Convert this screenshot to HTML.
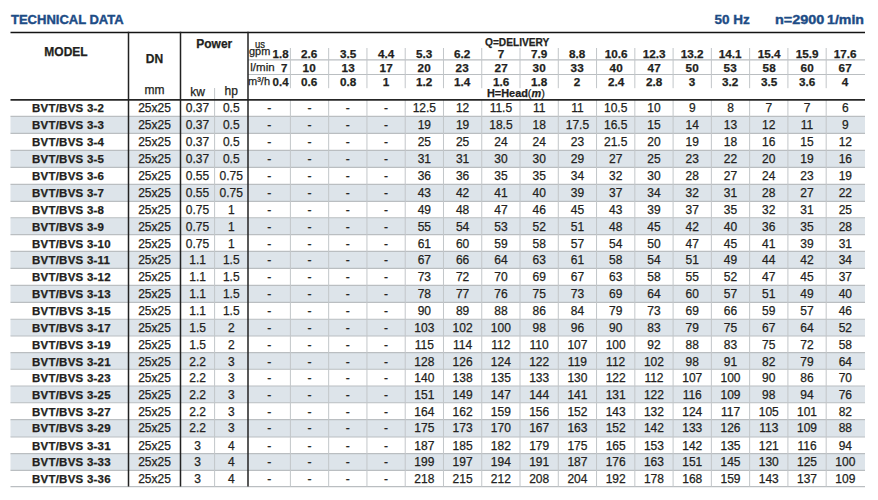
<!DOCTYPE html>
<html><head><meta charset="utf-8"><style>
html,body{margin:0;padding:0;background:#fff;}
body{width:878px;height:500px;position:relative;overflow:hidden;font-family:"Liberation Sans", sans-serif;}
body>div{position:absolute;white-space:nowrap;-webkit-text-stroke:0.25px currentColor;}
svg{position:absolute;left:0;top:0;}
</style></head><body>
<svg width="878" height="500" viewBox="0 0 878 500">
<rect x="10.5" y="116.4" width="854.5" height="17.0" fill="#dde4ea"/>
<rect x="10.5" y="150.4" width="854.5" height="17.0" fill="#dde4ea"/>
<rect x="10.5" y="184.4" width="854.5" height="17.0" fill="#dde4ea"/>
<rect x="10.5" y="217.8" width="854.5" height="16.8" fill="#dde4ea"/>
<rect x="10.5" y="251.4" width="854.5" height="17.0" fill="#dde4ea"/>
<rect x="10.5" y="285.4" width="854.5" height="17.0" fill="#dde4ea"/>
<rect x="10.5" y="319.2" width="854.5" height="16.8" fill="#dde4ea"/>
<rect x="10.5" y="352.6" width="854.5" height="16.6" fill="#dde4ea"/>
<rect x="10.5" y="386.0" width="854.5" height="16.8" fill="#dde4ea"/>
<rect x="10.5" y="419.6" width="854.5" height="17.4" fill="#dde4ea"/>
<rect x="10.5" y="453.6" width="854.5" height="16.8" fill="#dde4ea"/>
<line x1="10.5" y1="116.4" x2="865.0" y2="116.4" stroke="#babec1" stroke-width="1.1"/>
<line x1="10.5" y1="133.4" x2="865.0" y2="133.4" stroke="#babec1" stroke-width="1.1"/>
<line x1="10.5" y1="150.4" x2="865.0" y2="150.4" stroke="#babec1" stroke-width="1.1"/>
<line x1="10.5" y1="167.4" x2="865.0" y2="167.4" stroke="#babec1" stroke-width="1.1"/>
<line x1="10.5" y1="184.4" x2="865.0" y2="184.4" stroke="#babec1" stroke-width="1.1"/>
<line x1="10.5" y1="201.4" x2="865.0" y2="201.4" stroke="#babec1" stroke-width="1.1"/>
<line x1="10.5" y1="217.8" x2="865.0" y2="217.8" stroke="#babec1" stroke-width="1.1"/>
<line x1="10.5" y1="234.6" x2="865.0" y2="234.6" stroke="#babec1" stroke-width="1.1"/>
<line x1="10.5" y1="251.4" x2="865.0" y2="251.4" stroke="#babec1" stroke-width="1.1"/>
<line x1="10.5" y1="268.4" x2="865.0" y2="268.4" stroke="#babec1" stroke-width="1.1"/>
<line x1="10.5" y1="285.4" x2="865.0" y2="285.4" stroke="#babec1" stroke-width="1.1"/>
<line x1="10.5" y1="302.4" x2="865.0" y2="302.4" stroke="#babec1" stroke-width="1.1"/>
<line x1="10.5" y1="319.2" x2="865.0" y2="319.2" stroke="#babec1" stroke-width="1.1"/>
<line x1="10.5" y1="336.0" x2="865.0" y2="336.0" stroke="#babec1" stroke-width="1.1"/>
<line x1="10.5" y1="352.6" x2="865.0" y2="352.6" stroke="#babec1" stroke-width="1.1"/>
<line x1="10.5" y1="369.2" x2="865.0" y2="369.2" stroke="#babec1" stroke-width="1.1"/>
<line x1="10.5" y1="386.0" x2="865.0" y2="386.0" stroke="#babec1" stroke-width="1.1"/>
<line x1="10.5" y1="402.8" x2="865.0" y2="402.8" stroke="#babec1" stroke-width="1.1"/>
<line x1="10.5" y1="419.6" x2="865.0" y2="419.6" stroke="#babec1" stroke-width="1.1"/>
<line x1="10.5" y1="437.0" x2="865.0" y2="437.0" stroke="#babec1" stroke-width="1.1"/>
<line x1="10.5" y1="453.6" x2="865.0" y2="453.6" stroke="#babec1" stroke-width="1.1"/>
<line x1="10.5" y1="470.4" x2="865.0" y2="470.4" stroke="#babec1" stroke-width="1.1"/>
<line x1="10.5" y1="486.6" x2="865.0" y2="486.6" stroke="#babec1" stroke-width="1.1"/>
<line x1="248" y1="59.9" x2="865.0" y2="59.9" stroke="#babec1" stroke-width="1.1"/>
<line x1="248" y1="74.5" x2="865.0" y2="74.5" stroke="#babec1" stroke-width="1.1"/>
<line x1="290.4" y1="48.0" x2="290.4" y2="88.2" stroke="#c2c6c9" stroke-width="1.0"/>
<line x1="328.67" y1="48.0" x2="328.67" y2="88.2" stroke="#c2c6c9" stroke-width="1.0"/>
<line x1="366.94" y1="48.0" x2="366.94" y2="88.2" stroke="#c2c6c9" stroke-width="1.0"/>
<line x1="405.21" y1="48.0" x2="405.21" y2="88.2" stroke="#c2c6c9" stroke-width="1.0"/>
<line x1="443.48" y1="48.0" x2="443.48" y2="88.2" stroke="#c2c6c9" stroke-width="1.0"/>
<line x1="481.75" y1="48.0" x2="481.75" y2="88.2" stroke="#c2c6c9" stroke-width="1.0"/>
<line x1="520.02" y1="48.0" x2="520.02" y2="88.2" stroke="#c2c6c9" stroke-width="1.0"/>
<line x1="558.29" y1="48.0" x2="558.29" y2="88.2" stroke="#c2c6c9" stroke-width="1.0"/>
<line x1="596.56" y1="48.0" x2="596.56" y2="88.2" stroke="#c2c6c9" stroke-width="1.0"/>
<line x1="634.83" y1="48.0" x2="634.83" y2="88.2" stroke="#c2c6c9" stroke-width="1.0"/>
<line x1="673.1" y1="48.0" x2="673.1" y2="88.2" stroke="#c2c6c9" stroke-width="1.0"/>
<line x1="711.37" y1="48.0" x2="711.37" y2="88.2" stroke="#c2c6c9" stroke-width="1.0"/>
<line x1="749.64" y1="48.0" x2="749.64" y2="88.2" stroke="#c2c6c9" stroke-width="1.0"/>
<line x1="787.91" y1="48.0" x2="787.91" y2="88.2" stroke="#c2c6c9" stroke-width="1.0"/>
<line x1="826.18" y1="48.0" x2="826.18" y2="88.2" stroke="#c2c6c9" stroke-width="1.0"/>
<line x1="290.4" y1="99.9" x2="290.4" y2="486.6" stroke="#c2c6c9" stroke-width="1.0"/>
<line x1="328.67" y1="99.9" x2="328.67" y2="486.6" stroke="#c2c6c9" stroke-width="1.0"/>
<line x1="366.94" y1="99.9" x2="366.94" y2="486.6" stroke="#c2c6c9" stroke-width="1.0"/>
<line x1="405.21" y1="99.9" x2="405.21" y2="486.6" stroke="#c2c6c9" stroke-width="1.0"/>
<line x1="443.48" y1="99.9" x2="443.48" y2="486.6" stroke="#c2c6c9" stroke-width="1.0"/>
<line x1="481.75" y1="99.9" x2="481.75" y2="486.6" stroke="#c2c6c9" stroke-width="1.0"/>
<line x1="520.02" y1="99.9" x2="520.02" y2="486.6" stroke="#c2c6c9" stroke-width="1.0"/>
<line x1="558.29" y1="99.9" x2="558.29" y2="486.6" stroke="#c2c6c9" stroke-width="1.0"/>
<line x1="596.56" y1="99.9" x2="596.56" y2="486.6" stroke="#c2c6c9" stroke-width="1.0"/>
<line x1="634.83" y1="99.9" x2="634.83" y2="486.6" stroke="#c2c6c9" stroke-width="1.0"/>
<line x1="673.1" y1="99.9" x2="673.1" y2="486.6" stroke="#c2c6c9" stroke-width="1.0"/>
<line x1="711.37" y1="99.9" x2="711.37" y2="486.6" stroke="#c2c6c9" stroke-width="1.0"/>
<line x1="749.64" y1="99.9" x2="749.64" y2="486.6" stroke="#c2c6c9" stroke-width="1.0"/>
<line x1="787.91" y1="99.9" x2="787.91" y2="486.6" stroke="#c2c6c9" stroke-width="1.0"/>
<line x1="826.18" y1="99.9" x2="826.18" y2="486.6" stroke="#c2c6c9" stroke-width="1.0"/>
<line x1="214.6" y1="88.0" x2="214.6" y2="486.6" stroke="#c2c6c9" stroke-width="1.0"/>
<line x1="10.5" y1="32.45" x2="865.0" y2="32.45" stroke="#141414" stroke-width="1.5"/>
<line x1="10.5" y1="99.9" x2="865.0" y2="99.9" stroke="#262626" stroke-width="1.9"/>
<line x1="128.5" y1="31.700000000000003" x2="128.5" y2="486.6" stroke="#222" stroke-width="1.5"/>
<line x1="180.5" y1="31.700000000000003" x2="180.5" y2="486.6" stroke="#222" stroke-width="1.5"/>
<line x1="248.0" y1="31.700000000000003" x2="248.0" y2="486.6" stroke="#222" stroke-width="1.5"/>
</svg>
<div style="left:11.00px;top:12px;font-size:13px;line-height:16px;text-align:left;font-weight:bold;color:#1d4c86;-webkit-text-stroke:0.4px currentColor;">TECHNICAL DATA</div>
<div style="left:714.50px;top:12px;font-size:13.5px;line-height:16px;text-align:left;font-weight:bold;color:#1d4c86;-webkit-text-stroke:0.4px currentColor;">50 Hz</div>
<div style="left:774.90px;top:12px;font-size:13px;line-height:16px;text-align:left;font-weight:bold;color:#1d4c86;transform:scaleX(1.11);transform-origin:left 0;-webkit-text-stroke:0.4px currentColor;">n=2900</div>
<div style="left:827.40px;top:12px;font-size:13px;line-height:16px;text-align:left;font-weight:bold;color:#1d4c86;transform:scaleX(1.09);transform-origin:left 0;-webkit-text-stroke:0.4px currentColor;">1/min</div>
<div style="left:44.30px;top:45px;font-size:12px;line-height:14px;text-align:left;font-weight:bold;color:#231f20;">MODEL</div>
<div style="left:128.50px;top:52px;width:52.00px;font-size:12px;line-height:14px;text-align:center;font-weight:bold;color:#231f20;">DN</div>
<div style="left:180.50px;top:37px;width:67.50px;font-size:12px;line-height:14px;text-align:center;font-weight:bold;color:#231f20;">Power</div>
<div style="left:128.50px;top:83px;width:52.00px;font-size:12px;line-height:14px;text-align:center;font-weight:normal;color:#231f20;">mm</div>
<div style="left:180.50px;top:85px;width:34.10px;font-size:12px;line-height:14px;text-align:center;font-weight:normal;color:#231f20;">kw</div>
<div style="left:214.60px;top:84px;width:33.40px;font-size:12px;line-height:14px;text-align:center;font-weight:normal;color:#231f20;">hp</div>
<div style="left:254.80px;top:39px;font-size:10px;line-height:12px;text-align:left;font-weight:normal;color:#231f20;transform:scaleX(0.95);transform-origin:left 0;">us</div>
<div style="left:248.60px;top:45px;font-size:10.5px;line-height:13px;text-align:left;font-weight:normal;color:#231f20;transform:scaleX(1.04);transform-origin:left 0;">gpm</div>
<div style="left:250.30px;top:60px;font-size:11.5px;line-height:14px;text-align:left;font-weight:normal;color:#231f20;">l/min</div>
<div style="left:248.00px;top:75px;font-size:11px;line-height:13px;text-align:left;font-weight:normal;color:#231f20;">m&sup3;/h</div>
<div style="left:484.60px;top:36px;font-size:11px;line-height:13px;text-align:left;font-weight:bold;color:#231f20;transform:scaleX(0.925);transform-origin:left 0;">Q=DELIVERY</div>
<div style="left:487.00px;top:87px;font-size:11px;line-height:13px;text-align:left;font-weight:bold;color:#231f20;transform:scaleX(0.99);transform-origin:left 0;">H=Head<span style="font-weight:normal">(</span><i>m</i><span style="font-weight:normal">)</span></div>
<div style="left:248.00px;top:47px;width:40.60px;font-size:11.5px;line-height:14px;text-align:right;font-weight:bold;color:#231f20;">1.8</div>
<div style="left:248.00px;top:61px;width:39.30px;font-size:11.5px;line-height:14px;text-align:right;font-weight:bold;color:#231f20;">7</div>
<div style="left:248.00px;top:75px;width:40.60px;font-size:11.5px;line-height:14px;text-align:right;font-weight:bold;color:#231f20;">0.4</div>
<div style="left:290.40px;top:47px;width:38.27px;font-size:11.5px;line-height:14px;text-align:center;font-weight:bold;color:#231f20;transform:scaleX(1.02);transform-origin:center 0;">2.6</div>
<div style="left:290.40px;top:61px;width:38.27px;font-size:11.5px;line-height:14px;text-align:center;font-weight:bold;color:#231f20;transform:scaleX(1.02);transform-origin:center 0;">10</div>
<div style="left:290.40px;top:75px;width:38.27px;font-size:11.5px;line-height:14px;text-align:center;font-weight:bold;color:#231f20;transform:scaleX(1.02);transform-origin:center 0;">0.6</div>
<div style="left:328.67px;top:47px;width:38.27px;font-size:11.5px;line-height:14px;text-align:center;font-weight:bold;color:#231f20;transform:scaleX(1.02);transform-origin:center 0;">3.5</div>
<div style="left:328.67px;top:61px;width:38.27px;font-size:11.5px;line-height:14px;text-align:center;font-weight:bold;color:#231f20;transform:scaleX(1.02);transform-origin:center 0;">13</div>
<div style="left:328.67px;top:75px;width:38.27px;font-size:11.5px;line-height:14px;text-align:center;font-weight:bold;color:#231f20;transform:scaleX(1.02);transform-origin:center 0;">0.8</div>
<div style="left:366.94px;top:47px;width:38.27px;font-size:11.5px;line-height:14px;text-align:center;font-weight:bold;color:#231f20;transform:scaleX(1.02);transform-origin:center 0;">4.4</div>
<div style="left:366.94px;top:61px;width:38.27px;font-size:11.5px;line-height:14px;text-align:center;font-weight:bold;color:#231f20;transform:scaleX(1.02);transform-origin:center 0;">17</div>
<div style="left:366.94px;top:75px;width:38.27px;font-size:11.5px;line-height:14px;text-align:center;font-weight:bold;color:#231f20;transform:scaleX(1.02);transform-origin:center 0;">1</div>
<div style="left:405.21px;top:47px;width:38.27px;font-size:11.5px;line-height:14px;text-align:center;font-weight:bold;color:#231f20;transform:scaleX(1.02);transform-origin:center 0;">5.3</div>
<div style="left:405.21px;top:61px;width:38.27px;font-size:11.5px;line-height:14px;text-align:center;font-weight:bold;color:#231f20;transform:scaleX(1.02);transform-origin:center 0;">20</div>
<div style="left:405.21px;top:75px;width:38.27px;font-size:11.5px;line-height:14px;text-align:center;font-weight:bold;color:#231f20;transform:scaleX(1.02);transform-origin:center 0;">1.2</div>
<div style="left:443.48px;top:47px;width:38.27px;font-size:11.5px;line-height:14px;text-align:center;font-weight:bold;color:#231f20;transform:scaleX(1.02);transform-origin:center 0;">6.2</div>
<div style="left:443.48px;top:61px;width:38.27px;font-size:11.5px;line-height:14px;text-align:center;font-weight:bold;color:#231f20;transform:scaleX(1.02);transform-origin:center 0;">23</div>
<div style="left:443.48px;top:75px;width:38.27px;font-size:11.5px;line-height:14px;text-align:center;font-weight:bold;color:#231f20;transform:scaleX(1.02);transform-origin:center 0;">1.4</div>
<div style="left:481.75px;top:47px;width:38.27px;font-size:11.5px;line-height:14px;text-align:center;font-weight:bold;color:#231f20;transform:scaleX(1.02);transform-origin:center 0;">7</div>
<div style="left:481.75px;top:61px;width:38.27px;font-size:11.5px;line-height:14px;text-align:center;font-weight:bold;color:#231f20;transform:scaleX(1.02);transform-origin:center 0;">27</div>
<div style="left:481.75px;top:75px;width:38.27px;font-size:11.5px;line-height:14px;text-align:center;font-weight:bold;color:#231f20;transform:scaleX(1.02);transform-origin:center 0;">1.6</div>
<div style="left:520.02px;top:47px;width:38.27px;font-size:11.5px;line-height:14px;text-align:center;font-weight:bold;color:#231f20;transform:scaleX(1.02);transform-origin:center 0;">7.9</div>
<div style="left:520.02px;top:61px;width:38.27px;font-size:11.5px;line-height:14px;text-align:center;font-weight:bold;color:#231f20;transform:scaleX(1.02);transform-origin:center 0;">30</div>
<div style="left:520.02px;top:75px;width:38.27px;font-size:11.5px;line-height:14px;text-align:center;font-weight:bold;color:#231f20;transform:scaleX(1.02);transform-origin:center 0;">1.8</div>
<div style="left:558.29px;top:47px;width:38.27px;font-size:11.5px;line-height:14px;text-align:center;font-weight:bold;color:#231f20;transform:scaleX(1.02);transform-origin:center 0;">8.8</div>
<div style="left:558.29px;top:61px;width:38.27px;font-size:11.5px;line-height:14px;text-align:center;font-weight:bold;color:#231f20;transform:scaleX(1.02);transform-origin:center 0;">33</div>
<div style="left:558.29px;top:75px;width:38.27px;font-size:11.5px;line-height:14px;text-align:center;font-weight:bold;color:#231f20;transform:scaleX(1.02);transform-origin:center 0;">2</div>
<div style="left:596.56px;top:47px;width:38.27px;font-size:11.5px;line-height:14px;text-align:center;font-weight:bold;color:#231f20;transform:scaleX(1.02);transform-origin:center 0;">10.6</div>
<div style="left:596.56px;top:61px;width:38.27px;font-size:11.5px;line-height:14px;text-align:center;font-weight:bold;color:#231f20;transform:scaleX(1.02);transform-origin:center 0;">40</div>
<div style="left:596.56px;top:75px;width:38.27px;font-size:11.5px;line-height:14px;text-align:center;font-weight:bold;color:#231f20;transform:scaleX(1.02);transform-origin:center 0;">2.4</div>
<div style="left:634.83px;top:47px;width:38.27px;font-size:11.5px;line-height:14px;text-align:center;font-weight:bold;color:#231f20;transform:scaleX(1.02);transform-origin:center 0;">12.3</div>
<div style="left:634.83px;top:61px;width:38.27px;font-size:11.5px;line-height:14px;text-align:center;font-weight:bold;color:#231f20;transform:scaleX(1.02);transform-origin:center 0;">47</div>
<div style="left:634.83px;top:75px;width:38.27px;font-size:11.5px;line-height:14px;text-align:center;font-weight:bold;color:#231f20;transform:scaleX(1.02);transform-origin:center 0;">2.8</div>
<div style="left:673.10px;top:47px;width:38.27px;font-size:11.5px;line-height:14px;text-align:center;font-weight:bold;color:#231f20;transform:scaleX(1.02);transform-origin:center 0;">13.2</div>
<div style="left:673.10px;top:61px;width:38.27px;font-size:11.5px;line-height:14px;text-align:center;font-weight:bold;color:#231f20;transform:scaleX(1.02);transform-origin:center 0;">50</div>
<div style="left:673.10px;top:75px;width:38.27px;font-size:11.5px;line-height:14px;text-align:center;font-weight:bold;color:#231f20;transform:scaleX(1.02);transform-origin:center 0;">3</div>
<div style="left:711.37px;top:47px;width:38.27px;font-size:11.5px;line-height:14px;text-align:center;font-weight:bold;color:#231f20;transform:scaleX(1.02);transform-origin:center 0;">14.1</div>
<div style="left:711.37px;top:61px;width:38.27px;font-size:11.5px;line-height:14px;text-align:center;font-weight:bold;color:#231f20;transform:scaleX(1.02);transform-origin:center 0;">53</div>
<div style="left:711.37px;top:75px;width:38.27px;font-size:11.5px;line-height:14px;text-align:center;font-weight:bold;color:#231f20;transform:scaleX(1.02);transform-origin:center 0;">3.2</div>
<div style="left:749.64px;top:47px;width:38.27px;font-size:11.5px;line-height:14px;text-align:center;font-weight:bold;color:#231f20;transform:scaleX(1.02);transform-origin:center 0;">15.4</div>
<div style="left:749.64px;top:61px;width:38.27px;font-size:11.5px;line-height:14px;text-align:center;font-weight:bold;color:#231f20;transform:scaleX(1.02);transform-origin:center 0;">58</div>
<div style="left:749.64px;top:75px;width:38.27px;font-size:11.5px;line-height:14px;text-align:center;font-weight:bold;color:#231f20;transform:scaleX(1.02);transform-origin:center 0;">3.5</div>
<div style="left:787.91px;top:47px;width:38.27px;font-size:11.5px;line-height:14px;text-align:center;font-weight:bold;color:#231f20;transform:scaleX(1.02);transform-origin:center 0;">15.9</div>
<div style="left:787.91px;top:61px;width:38.27px;font-size:11.5px;line-height:14px;text-align:center;font-weight:bold;color:#231f20;transform:scaleX(1.02);transform-origin:center 0;">60</div>
<div style="left:787.91px;top:75px;width:38.27px;font-size:11.5px;line-height:14px;text-align:center;font-weight:bold;color:#231f20;transform:scaleX(1.02);transform-origin:center 0;">3.6</div>
<div style="left:826.18px;top:47px;width:38.27px;font-size:11.5px;line-height:14px;text-align:center;font-weight:bold;color:#231f20;transform:scaleX(1.02);transform-origin:center 0;">17.6</div>
<div style="left:826.18px;top:61px;width:38.27px;font-size:11.5px;line-height:14px;text-align:center;font-weight:bold;color:#231f20;transform:scaleX(1.02);transform-origin:center 0;">67</div>
<div style="left:826.18px;top:75px;width:38.27px;font-size:11.5px;line-height:14px;text-align:center;font-weight:bold;color:#231f20;transform:scaleX(1.02);transform-origin:center 0;">4</div>
<div style="left:32.00px;top:101px;font-size:11.5px;line-height:14px;text-align:left;font-weight:bold;color:#231f20;letter-spacing:0.23px;">BVT/BVS 3-2</div>
<div style="left:128.50px;top:101px;width:52.00px;font-size:12px;line-height:14px;text-align:center;font-weight:normal;color:#231f20;">25x25</div>
<div style="left:180.50px;top:101px;width:34.10px;font-size:12px;line-height:14px;text-align:center;font-weight:normal;color:#231f20;">0.37</div>
<div style="left:214.60px;top:101px;width:33.40px;font-size:12px;line-height:14px;text-align:center;font-weight:normal;color:#231f20;">0.5</div>
<div style="left:248.00px;top:101px;width:42.40px;font-size:12px;line-height:14px;text-align:center;font-weight:normal;color:#231f20;">-</div>
<div style="left:290.40px;top:101px;width:38.27px;font-size:12px;line-height:14px;text-align:center;font-weight:normal;color:#231f20;">-</div>
<div style="left:328.67px;top:101px;width:38.27px;font-size:12px;line-height:14px;text-align:center;font-weight:normal;color:#231f20;">-</div>
<div style="left:366.94px;top:101px;width:38.27px;font-size:12px;line-height:14px;text-align:center;font-weight:normal;color:#231f20;">-</div>
<div style="left:405.21px;top:101px;width:38.27px;font-size:12px;line-height:14px;text-align:center;font-weight:normal;color:#231f20;">12.5</div>
<div style="left:443.48px;top:101px;width:38.27px;font-size:12px;line-height:14px;text-align:center;font-weight:normal;color:#231f20;">12</div>
<div style="left:481.75px;top:101px;width:38.27px;font-size:12px;line-height:14px;text-align:center;font-weight:normal;color:#231f20;">11.5</div>
<div style="left:520.02px;top:101px;width:38.27px;font-size:12px;line-height:14px;text-align:center;font-weight:normal;color:#231f20;">11</div>
<div style="left:558.29px;top:101px;width:38.27px;font-size:12px;line-height:14px;text-align:center;font-weight:normal;color:#231f20;">11</div>
<div style="left:596.56px;top:101px;width:38.27px;font-size:12px;line-height:14px;text-align:center;font-weight:normal;color:#231f20;">10.5</div>
<div style="left:634.83px;top:101px;width:38.27px;font-size:12px;line-height:14px;text-align:center;font-weight:normal;color:#231f20;">10</div>
<div style="left:673.10px;top:101px;width:38.27px;font-size:12px;line-height:14px;text-align:center;font-weight:normal;color:#231f20;">9</div>
<div style="left:711.37px;top:101px;width:38.27px;font-size:12px;line-height:14px;text-align:center;font-weight:normal;color:#231f20;">8</div>
<div style="left:749.64px;top:101px;width:38.27px;font-size:12px;line-height:14px;text-align:center;font-weight:normal;color:#231f20;">7</div>
<div style="left:787.91px;top:101px;width:38.27px;font-size:12px;line-height:14px;text-align:center;font-weight:normal;color:#231f20;">7</div>
<div style="left:826.18px;top:101px;width:38.27px;font-size:12px;line-height:14px;text-align:center;font-weight:normal;color:#231f20;">6</div>
<div style="left:32.00px;top:118px;font-size:11.5px;line-height:14px;text-align:left;font-weight:bold;color:#231f20;letter-spacing:0.23px;">BVT/BVS 3-3</div>
<div style="left:128.50px;top:118px;width:52.00px;font-size:12px;line-height:14px;text-align:center;font-weight:normal;color:#231f20;">25x25</div>
<div style="left:180.50px;top:118px;width:34.10px;font-size:12px;line-height:14px;text-align:center;font-weight:normal;color:#231f20;">0.37</div>
<div style="left:214.60px;top:118px;width:33.40px;font-size:12px;line-height:14px;text-align:center;font-weight:normal;color:#231f20;">0.5</div>
<div style="left:248.00px;top:118px;width:42.40px;font-size:12px;line-height:14px;text-align:center;font-weight:normal;color:#231f20;">-</div>
<div style="left:290.40px;top:118px;width:38.27px;font-size:12px;line-height:14px;text-align:center;font-weight:normal;color:#231f20;">-</div>
<div style="left:328.67px;top:118px;width:38.27px;font-size:12px;line-height:14px;text-align:center;font-weight:normal;color:#231f20;">-</div>
<div style="left:366.94px;top:118px;width:38.27px;font-size:12px;line-height:14px;text-align:center;font-weight:normal;color:#231f20;">-</div>
<div style="left:405.21px;top:118px;width:38.27px;font-size:12px;line-height:14px;text-align:center;font-weight:normal;color:#231f20;">19</div>
<div style="left:443.48px;top:118px;width:38.27px;font-size:12px;line-height:14px;text-align:center;font-weight:normal;color:#231f20;">19</div>
<div style="left:481.75px;top:118px;width:38.27px;font-size:12px;line-height:14px;text-align:center;font-weight:normal;color:#231f20;">18.5</div>
<div style="left:520.02px;top:118px;width:38.27px;font-size:12px;line-height:14px;text-align:center;font-weight:normal;color:#231f20;">18</div>
<div style="left:558.29px;top:118px;width:38.27px;font-size:12px;line-height:14px;text-align:center;font-weight:normal;color:#231f20;">17.5</div>
<div style="left:596.56px;top:118px;width:38.27px;font-size:12px;line-height:14px;text-align:center;font-weight:normal;color:#231f20;">16.5</div>
<div style="left:634.83px;top:118px;width:38.27px;font-size:12px;line-height:14px;text-align:center;font-weight:normal;color:#231f20;">15</div>
<div style="left:673.10px;top:118px;width:38.27px;font-size:12px;line-height:14px;text-align:center;font-weight:normal;color:#231f20;">14</div>
<div style="left:711.37px;top:118px;width:38.27px;font-size:12px;line-height:14px;text-align:center;font-weight:normal;color:#231f20;">13</div>
<div style="left:749.64px;top:118px;width:38.27px;font-size:12px;line-height:14px;text-align:center;font-weight:normal;color:#231f20;">12</div>
<div style="left:787.91px;top:118px;width:38.27px;font-size:12px;line-height:14px;text-align:center;font-weight:normal;color:#231f20;">11</div>
<div style="left:826.18px;top:118px;width:38.27px;font-size:12px;line-height:14px;text-align:center;font-weight:normal;color:#231f20;">9</div>
<div style="left:32.00px;top:135px;font-size:11.5px;line-height:14px;text-align:left;font-weight:bold;color:#231f20;letter-spacing:0.23px;">BVT/BVS 3-4</div>
<div style="left:128.50px;top:135px;width:52.00px;font-size:12px;line-height:14px;text-align:center;font-weight:normal;color:#231f20;">25x25</div>
<div style="left:180.50px;top:135px;width:34.10px;font-size:12px;line-height:14px;text-align:center;font-weight:normal;color:#231f20;">0.37</div>
<div style="left:214.60px;top:135px;width:33.40px;font-size:12px;line-height:14px;text-align:center;font-weight:normal;color:#231f20;">0.5</div>
<div style="left:248.00px;top:135px;width:42.40px;font-size:12px;line-height:14px;text-align:center;font-weight:normal;color:#231f20;">-</div>
<div style="left:290.40px;top:135px;width:38.27px;font-size:12px;line-height:14px;text-align:center;font-weight:normal;color:#231f20;">-</div>
<div style="left:328.67px;top:135px;width:38.27px;font-size:12px;line-height:14px;text-align:center;font-weight:normal;color:#231f20;">-</div>
<div style="left:366.94px;top:135px;width:38.27px;font-size:12px;line-height:14px;text-align:center;font-weight:normal;color:#231f20;">-</div>
<div style="left:405.21px;top:135px;width:38.27px;font-size:12px;line-height:14px;text-align:center;font-weight:normal;color:#231f20;">25</div>
<div style="left:443.48px;top:135px;width:38.27px;font-size:12px;line-height:14px;text-align:center;font-weight:normal;color:#231f20;">25</div>
<div style="left:481.75px;top:135px;width:38.27px;font-size:12px;line-height:14px;text-align:center;font-weight:normal;color:#231f20;">24</div>
<div style="left:520.02px;top:135px;width:38.27px;font-size:12px;line-height:14px;text-align:center;font-weight:normal;color:#231f20;">24</div>
<div style="left:558.29px;top:135px;width:38.27px;font-size:12px;line-height:14px;text-align:center;font-weight:normal;color:#231f20;">23</div>
<div style="left:596.56px;top:135px;width:38.27px;font-size:12px;line-height:14px;text-align:center;font-weight:normal;color:#231f20;">21.5</div>
<div style="left:634.83px;top:135px;width:38.27px;font-size:12px;line-height:14px;text-align:center;font-weight:normal;color:#231f20;">20</div>
<div style="left:673.10px;top:135px;width:38.27px;font-size:12px;line-height:14px;text-align:center;font-weight:normal;color:#231f20;">19</div>
<div style="left:711.37px;top:135px;width:38.27px;font-size:12px;line-height:14px;text-align:center;font-weight:normal;color:#231f20;">18</div>
<div style="left:749.64px;top:135px;width:38.27px;font-size:12px;line-height:14px;text-align:center;font-weight:normal;color:#231f20;">16</div>
<div style="left:787.91px;top:135px;width:38.27px;font-size:12px;line-height:14px;text-align:center;font-weight:normal;color:#231f20;">15</div>
<div style="left:826.18px;top:135px;width:38.27px;font-size:12px;line-height:14px;text-align:center;font-weight:normal;color:#231f20;">12</div>
<div style="left:32.00px;top:152px;font-size:11.5px;line-height:14px;text-align:left;font-weight:bold;color:#231f20;letter-spacing:0.23px;">BVT/BVS 3-5</div>
<div style="left:128.50px;top:152px;width:52.00px;font-size:12px;line-height:14px;text-align:center;font-weight:normal;color:#231f20;">25x25</div>
<div style="left:180.50px;top:152px;width:34.10px;font-size:12px;line-height:14px;text-align:center;font-weight:normal;color:#231f20;">0.37</div>
<div style="left:214.60px;top:152px;width:33.40px;font-size:12px;line-height:14px;text-align:center;font-weight:normal;color:#231f20;">0.5</div>
<div style="left:248.00px;top:152px;width:42.40px;font-size:12px;line-height:14px;text-align:center;font-weight:normal;color:#231f20;">-</div>
<div style="left:290.40px;top:152px;width:38.27px;font-size:12px;line-height:14px;text-align:center;font-weight:normal;color:#231f20;">-</div>
<div style="left:328.67px;top:152px;width:38.27px;font-size:12px;line-height:14px;text-align:center;font-weight:normal;color:#231f20;">-</div>
<div style="left:366.94px;top:152px;width:38.27px;font-size:12px;line-height:14px;text-align:center;font-weight:normal;color:#231f20;">-</div>
<div style="left:405.21px;top:152px;width:38.27px;font-size:12px;line-height:14px;text-align:center;font-weight:normal;color:#231f20;">31</div>
<div style="left:443.48px;top:152px;width:38.27px;font-size:12px;line-height:14px;text-align:center;font-weight:normal;color:#231f20;">31</div>
<div style="left:481.75px;top:152px;width:38.27px;font-size:12px;line-height:14px;text-align:center;font-weight:normal;color:#231f20;">30</div>
<div style="left:520.02px;top:152px;width:38.27px;font-size:12px;line-height:14px;text-align:center;font-weight:normal;color:#231f20;">30</div>
<div style="left:558.29px;top:152px;width:38.27px;font-size:12px;line-height:14px;text-align:center;font-weight:normal;color:#231f20;">29</div>
<div style="left:596.56px;top:152px;width:38.27px;font-size:12px;line-height:14px;text-align:center;font-weight:normal;color:#231f20;">27</div>
<div style="left:634.83px;top:152px;width:38.27px;font-size:12px;line-height:14px;text-align:center;font-weight:normal;color:#231f20;">25</div>
<div style="left:673.10px;top:152px;width:38.27px;font-size:12px;line-height:14px;text-align:center;font-weight:normal;color:#231f20;">23</div>
<div style="left:711.37px;top:152px;width:38.27px;font-size:12px;line-height:14px;text-align:center;font-weight:normal;color:#231f20;">22</div>
<div style="left:749.64px;top:152px;width:38.27px;font-size:12px;line-height:14px;text-align:center;font-weight:normal;color:#231f20;">20</div>
<div style="left:787.91px;top:152px;width:38.27px;font-size:12px;line-height:14px;text-align:center;font-weight:normal;color:#231f20;">19</div>
<div style="left:826.18px;top:152px;width:38.27px;font-size:12px;line-height:14px;text-align:center;font-weight:normal;color:#231f20;">16</div>
<div style="left:32.00px;top:169px;font-size:11.5px;line-height:14px;text-align:left;font-weight:bold;color:#231f20;letter-spacing:0.23px;">BVT/BVS 3-6</div>
<div style="left:128.50px;top:169px;width:52.00px;font-size:12px;line-height:14px;text-align:center;font-weight:normal;color:#231f20;">25x25</div>
<div style="left:180.50px;top:169px;width:34.10px;font-size:12px;line-height:14px;text-align:center;font-weight:normal;color:#231f20;">0.55</div>
<div style="left:214.60px;top:169px;width:33.40px;font-size:12px;line-height:14px;text-align:center;font-weight:normal;color:#231f20;">0.75</div>
<div style="left:248.00px;top:169px;width:42.40px;font-size:12px;line-height:14px;text-align:center;font-weight:normal;color:#231f20;">-</div>
<div style="left:290.40px;top:169px;width:38.27px;font-size:12px;line-height:14px;text-align:center;font-weight:normal;color:#231f20;">-</div>
<div style="left:328.67px;top:169px;width:38.27px;font-size:12px;line-height:14px;text-align:center;font-weight:normal;color:#231f20;">-</div>
<div style="left:366.94px;top:169px;width:38.27px;font-size:12px;line-height:14px;text-align:center;font-weight:normal;color:#231f20;">-</div>
<div style="left:405.21px;top:169px;width:38.27px;font-size:12px;line-height:14px;text-align:center;font-weight:normal;color:#231f20;">36</div>
<div style="left:443.48px;top:169px;width:38.27px;font-size:12px;line-height:14px;text-align:center;font-weight:normal;color:#231f20;">36</div>
<div style="left:481.75px;top:169px;width:38.27px;font-size:12px;line-height:14px;text-align:center;font-weight:normal;color:#231f20;">35</div>
<div style="left:520.02px;top:169px;width:38.27px;font-size:12px;line-height:14px;text-align:center;font-weight:normal;color:#231f20;">35</div>
<div style="left:558.29px;top:169px;width:38.27px;font-size:12px;line-height:14px;text-align:center;font-weight:normal;color:#231f20;">34</div>
<div style="left:596.56px;top:169px;width:38.27px;font-size:12px;line-height:14px;text-align:center;font-weight:normal;color:#231f20;">32</div>
<div style="left:634.83px;top:169px;width:38.27px;font-size:12px;line-height:14px;text-align:center;font-weight:normal;color:#231f20;">30</div>
<div style="left:673.10px;top:169px;width:38.27px;font-size:12px;line-height:14px;text-align:center;font-weight:normal;color:#231f20;">28</div>
<div style="left:711.37px;top:169px;width:38.27px;font-size:12px;line-height:14px;text-align:center;font-weight:normal;color:#231f20;">27</div>
<div style="left:749.64px;top:169px;width:38.27px;font-size:12px;line-height:14px;text-align:center;font-weight:normal;color:#231f20;">24</div>
<div style="left:787.91px;top:169px;width:38.27px;font-size:12px;line-height:14px;text-align:center;font-weight:normal;color:#231f20;">23</div>
<div style="left:826.18px;top:169px;width:38.27px;font-size:12px;line-height:14px;text-align:center;font-weight:normal;color:#231f20;">19</div>
<div style="left:32.00px;top:186px;font-size:11.5px;line-height:14px;text-align:left;font-weight:bold;color:#231f20;letter-spacing:0.23px;">BVT/BVS 3-7</div>
<div style="left:128.50px;top:186px;width:52.00px;font-size:12px;line-height:14px;text-align:center;font-weight:normal;color:#231f20;">25x25</div>
<div style="left:180.50px;top:186px;width:34.10px;font-size:12px;line-height:14px;text-align:center;font-weight:normal;color:#231f20;">0.55</div>
<div style="left:214.60px;top:186px;width:33.40px;font-size:12px;line-height:14px;text-align:center;font-weight:normal;color:#231f20;">0.75</div>
<div style="left:248.00px;top:186px;width:42.40px;font-size:12px;line-height:14px;text-align:center;font-weight:normal;color:#231f20;">-</div>
<div style="left:290.40px;top:186px;width:38.27px;font-size:12px;line-height:14px;text-align:center;font-weight:normal;color:#231f20;">-</div>
<div style="left:328.67px;top:186px;width:38.27px;font-size:12px;line-height:14px;text-align:center;font-weight:normal;color:#231f20;">-</div>
<div style="left:366.94px;top:186px;width:38.27px;font-size:12px;line-height:14px;text-align:center;font-weight:normal;color:#231f20;">-</div>
<div style="left:405.21px;top:186px;width:38.27px;font-size:12px;line-height:14px;text-align:center;font-weight:normal;color:#231f20;">43</div>
<div style="left:443.48px;top:186px;width:38.27px;font-size:12px;line-height:14px;text-align:center;font-weight:normal;color:#231f20;">42</div>
<div style="left:481.75px;top:186px;width:38.27px;font-size:12px;line-height:14px;text-align:center;font-weight:normal;color:#231f20;">41</div>
<div style="left:520.02px;top:186px;width:38.27px;font-size:12px;line-height:14px;text-align:center;font-weight:normal;color:#231f20;">40</div>
<div style="left:558.29px;top:186px;width:38.27px;font-size:12px;line-height:14px;text-align:center;font-weight:normal;color:#231f20;">39</div>
<div style="left:596.56px;top:186px;width:38.27px;font-size:12px;line-height:14px;text-align:center;font-weight:normal;color:#231f20;">37</div>
<div style="left:634.83px;top:186px;width:38.27px;font-size:12px;line-height:14px;text-align:center;font-weight:normal;color:#231f20;">34</div>
<div style="left:673.10px;top:186px;width:38.27px;font-size:12px;line-height:14px;text-align:center;font-weight:normal;color:#231f20;">32</div>
<div style="left:711.37px;top:186px;width:38.27px;font-size:12px;line-height:14px;text-align:center;font-weight:normal;color:#231f20;">31</div>
<div style="left:749.64px;top:186px;width:38.27px;font-size:12px;line-height:14px;text-align:center;font-weight:normal;color:#231f20;">28</div>
<div style="left:787.91px;top:186px;width:38.27px;font-size:12px;line-height:14px;text-align:center;font-weight:normal;color:#231f20;">27</div>
<div style="left:826.18px;top:186px;width:38.27px;font-size:12px;line-height:14px;text-align:center;font-weight:normal;color:#231f20;">22</div>
<div style="left:32.00px;top:203px;font-size:11.5px;line-height:14px;text-align:left;font-weight:bold;color:#231f20;letter-spacing:0.23px;">BVT/BVS 3-8</div>
<div style="left:128.50px;top:203px;width:52.00px;font-size:12px;line-height:14px;text-align:center;font-weight:normal;color:#231f20;">25x25</div>
<div style="left:180.50px;top:203px;width:34.10px;font-size:12px;line-height:14px;text-align:center;font-weight:normal;color:#231f20;">0.75</div>
<div style="left:214.60px;top:203px;width:33.40px;font-size:12px;line-height:14px;text-align:center;font-weight:normal;color:#231f20;">1</div>
<div style="left:248.00px;top:203px;width:42.40px;font-size:12px;line-height:14px;text-align:center;font-weight:normal;color:#231f20;">-</div>
<div style="left:290.40px;top:203px;width:38.27px;font-size:12px;line-height:14px;text-align:center;font-weight:normal;color:#231f20;">-</div>
<div style="left:328.67px;top:203px;width:38.27px;font-size:12px;line-height:14px;text-align:center;font-weight:normal;color:#231f20;">-</div>
<div style="left:366.94px;top:203px;width:38.27px;font-size:12px;line-height:14px;text-align:center;font-weight:normal;color:#231f20;">-</div>
<div style="left:405.21px;top:203px;width:38.27px;font-size:12px;line-height:14px;text-align:center;font-weight:normal;color:#231f20;">49</div>
<div style="left:443.48px;top:203px;width:38.27px;font-size:12px;line-height:14px;text-align:center;font-weight:normal;color:#231f20;">48</div>
<div style="left:481.75px;top:203px;width:38.27px;font-size:12px;line-height:14px;text-align:center;font-weight:normal;color:#231f20;">47</div>
<div style="left:520.02px;top:203px;width:38.27px;font-size:12px;line-height:14px;text-align:center;font-weight:normal;color:#231f20;">46</div>
<div style="left:558.29px;top:203px;width:38.27px;font-size:12px;line-height:14px;text-align:center;font-weight:normal;color:#231f20;">45</div>
<div style="left:596.56px;top:203px;width:38.27px;font-size:12px;line-height:14px;text-align:center;font-weight:normal;color:#231f20;">43</div>
<div style="left:634.83px;top:203px;width:38.27px;font-size:12px;line-height:14px;text-align:center;font-weight:normal;color:#231f20;">39</div>
<div style="left:673.10px;top:203px;width:38.27px;font-size:12px;line-height:14px;text-align:center;font-weight:normal;color:#231f20;">37</div>
<div style="left:711.37px;top:203px;width:38.27px;font-size:12px;line-height:14px;text-align:center;font-weight:normal;color:#231f20;">35</div>
<div style="left:749.64px;top:203px;width:38.27px;font-size:12px;line-height:14px;text-align:center;font-weight:normal;color:#231f20;">32</div>
<div style="left:787.91px;top:203px;width:38.27px;font-size:12px;line-height:14px;text-align:center;font-weight:normal;color:#231f20;">31</div>
<div style="left:826.18px;top:203px;width:38.27px;font-size:12px;line-height:14px;text-align:center;font-weight:normal;color:#231f20;">25</div>
<div style="left:32.00px;top:220px;font-size:11.5px;line-height:14px;text-align:left;font-weight:bold;color:#231f20;letter-spacing:0.23px;">BVT/BVS 3-9</div>
<div style="left:128.50px;top:220px;width:52.00px;font-size:12px;line-height:14px;text-align:center;font-weight:normal;color:#231f20;">25x25</div>
<div style="left:180.50px;top:220px;width:34.10px;font-size:12px;line-height:14px;text-align:center;font-weight:normal;color:#231f20;">0.75</div>
<div style="left:214.60px;top:220px;width:33.40px;font-size:12px;line-height:14px;text-align:center;font-weight:normal;color:#231f20;">1</div>
<div style="left:248.00px;top:220px;width:42.40px;font-size:12px;line-height:14px;text-align:center;font-weight:normal;color:#231f20;">-</div>
<div style="left:290.40px;top:220px;width:38.27px;font-size:12px;line-height:14px;text-align:center;font-weight:normal;color:#231f20;">-</div>
<div style="left:328.67px;top:220px;width:38.27px;font-size:12px;line-height:14px;text-align:center;font-weight:normal;color:#231f20;">-</div>
<div style="left:366.94px;top:220px;width:38.27px;font-size:12px;line-height:14px;text-align:center;font-weight:normal;color:#231f20;">-</div>
<div style="left:405.21px;top:220px;width:38.27px;font-size:12px;line-height:14px;text-align:center;font-weight:normal;color:#231f20;">55</div>
<div style="left:443.48px;top:220px;width:38.27px;font-size:12px;line-height:14px;text-align:center;font-weight:normal;color:#231f20;">54</div>
<div style="left:481.75px;top:220px;width:38.27px;font-size:12px;line-height:14px;text-align:center;font-weight:normal;color:#231f20;">53</div>
<div style="left:520.02px;top:220px;width:38.27px;font-size:12px;line-height:14px;text-align:center;font-weight:normal;color:#231f20;">52</div>
<div style="left:558.29px;top:220px;width:38.27px;font-size:12px;line-height:14px;text-align:center;font-weight:normal;color:#231f20;">51</div>
<div style="left:596.56px;top:220px;width:38.27px;font-size:12px;line-height:14px;text-align:center;font-weight:normal;color:#231f20;">48</div>
<div style="left:634.83px;top:220px;width:38.27px;font-size:12px;line-height:14px;text-align:center;font-weight:normal;color:#231f20;">45</div>
<div style="left:673.10px;top:220px;width:38.27px;font-size:12px;line-height:14px;text-align:center;font-weight:normal;color:#231f20;">42</div>
<div style="left:711.37px;top:220px;width:38.27px;font-size:12px;line-height:14px;text-align:center;font-weight:normal;color:#231f20;">40</div>
<div style="left:749.64px;top:220px;width:38.27px;font-size:12px;line-height:14px;text-align:center;font-weight:normal;color:#231f20;">36</div>
<div style="left:787.91px;top:220px;width:38.27px;font-size:12px;line-height:14px;text-align:center;font-weight:normal;color:#231f20;">35</div>
<div style="left:826.18px;top:220px;width:38.27px;font-size:12px;line-height:14px;text-align:center;font-weight:normal;color:#231f20;">28</div>
<div style="left:32.00px;top:237px;font-size:11.5px;line-height:14px;text-align:left;font-weight:bold;color:#231f20;letter-spacing:0.23px;">BVT/BVS 3-10</div>
<div style="left:128.50px;top:237px;width:52.00px;font-size:12px;line-height:14px;text-align:center;font-weight:normal;color:#231f20;">25x25</div>
<div style="left:180.50px;top:237px;width:34.10px;font-size:12px;line-height:14px;text-align:center;font-weight:normal;color:#231f20;">0.75</div>
<div style="left:214.60px;top:237px;width:33.40px;font-size:12px;line-height:14px;text-align:center;font-weight:normal;color:#231f20;">1</div>
<div style="left:248.00px;top:237px;width:42.40px;font-size:12px;line-height:14px;text-align:center;font-weight:normal;color:#231f20;">-</div>
<div style="left:290.40px;top:237px;width:38.27px;font-size:12px;line-height:14px;text-align:center;font-weight:normal;color:#231f20;">-</div>
<div style="left:328.67px;top:237px;width:38.27px;font-size:12px;line-height:14px;text-align:center;font-weight:normal;color:#231f20;">-</div>
<div style="left:366.94px;top:237px;width:38.27px;font-size:12px;line-height:14px;text-align:center;font-weight:normal;color:#231f20;">-</div>
<div style="left:405.21px;top:237px;width:38.27px;font-size:12px;line-height:14px;text-align:center;font-weight:normal;color:#231f20;">61</div>
<div style="left:443.48px;top:237px;width:38.27px;font-size:12px;line-height:14px;text-align:center;font-weight:normal;color:#231f20;">60</div>
<div style="left:481.75px;top:237px;width:38.27px;font-size:12px;line-height:14px;text-align:center;font-weight:normal;color:#231f20;">59</div>
<div style="left:520.02px;top:237px;width:38.27px;font-size:12px;line-height:14px;text-align:center;font-weight:normal;color:#231f20;">58</div>
<div style="left:558.29px;top:237px;width:38.27px;font-size:12px;line-height:14px;text-align:center;font-weight:normal;color:#231f20;">57</div>
<div style="left:596.56px;top:237px;width:38.27px;font-size:12px;line-height:14px;text-align:center;font-weight:normal;color:#231f20;">54</div>
<div style="left:634.83px;top:237px;width:38.27px;font-size:12px;line-height:14px;text-align:center;font-weight:normal;color:#231f20;">50</div>
<div style="left:673.10px;top:237px;width:38.27px;font-size:12px;line-height:14px;text-align:center;font-weight:normal;color:#231f20;">47</div>
<div style="left:711.37px;top:237px;width:38.27px;font-size:12px;line-height:14px;text-align:center;font-weight:normal;color:#231f20;">45</div>
<div style="left:749.64px;top:237px;width:38.27px;font-size:12px;line-height:14px;text-align:center;font-weight:normal;color:#231f20;">41</div>
<div style="left:787.91px;top:237px;width:38.27px;font-size:12px;line-height:14px;text-align:center;font-weight:normal;color:#231f20;">39</div>
<div style="left:826.18px;top:237px;width:38.27px;font-size:12px;line-height:14px;text-align:center;font-weight:normal;color:#231f20;">31</div>
<div style="left:32.00px;top:253px;font-size:11.5px;line-height:14px;text-align:left;font-weight:bold;color:#231f20;letter-spacing:0.23px;">BVT/BVS 3-11</div>
<div style="left:128.50px;top:253px;width:52.00px;font-size:12px;line-height:14px;text-align:center;font-weight:normal;color:#231f20;">25x25</div>
<div style="left:180.50px;top:253px;width:34.10px;font-size:12px;line-height:14px;text-align:center;font-weight:normal;color:#231f20;">1.1</div>
<div style="left:214.60px;top:253px;width:33.40px;font-size:12px;line-height:14px;text-align:center;font-weight:normal;color:#231f20;">1.5</div>
<div style="left:248.00px;top:253px;width:42.40px;font-size:12px;line-height:14px;text-align:center;font-weight:normal;color:#231f20;">-</div>
<div style="left:290.40px;top:253px;width:38.27px;font-size:12px;line-height:14px;text-align:center;font-weight:normal;color:#231f20;">-</div>
<div style="left:328.67px;top:253px;width:38.27px;font-size:12px;line-height:14px;text-align:center;font-weight:normal;color:#231f20;">-</div>
<div style="left:366.94px;top:253px;width:38.27px;font-size:12px;line-height:14px;text-align:center;font-weight:normal;color:#231f20;">-</div>
<div style="left:405.21px;top:253px;width:38.27px;font-size:12px;line-height:14px;text-align:center;font-weight:normal;color:#231f20;">67</div>
<div style="left:443.48px;top:253px;width:38.27px;font-size:12px;line-height:14px;text-align:center;font-weight:normal;color:#231f20;">66</div>
<div style="left:481.75px;top:253px;width:38.27px;font-size:12px;line-height:14px;text-align:center;font-weight:normal;color:#231f20;">64</div>
<div style="left:520.02px;top:253px;width:38.27px;font-size:12px;line-height:14px;text-align:center;font-weight:normal;color:#231f20;">63</div>
<div style="left:558.29px;top:253px;width:38.27px;font-size:12px;line-height:14px;text-align:center;font-weight:normal;color:#231f20;">61</div>
<div style="left:596.56px;top:253px;width:38.27px;font-size:12px;line-height:14px;text-align:center;font-weight:normal;color:#231f20;">58</div>
<div style="left:634.83px;top:253px;width:38.27px;font-size:12px;line-height:14px;text-align:center;font-weight:normal;color:#231f20;">54</div>
<div style="left:673.10px;top:253px;width:38.27px;font-size:12px;line-height:14px;text-align:center;font-weight:normal;color:#231f20;">51</div>
<div style="left:711.37px;top:253px;width:38.27px;font-size:12px;line-height:14px;text-align:center;font-weight:normal;color:#231f20;">49</div>
<div style="left:749.64px;top:253px;width:38.27px;font-size:12px;line-height:14px;text-align:center;font-weight:normal;color:#231f20;">44</div>
<div style="left:787.91px;top:253px;width:38.27px;font-size:12px;line-height:14px;text-align:center;font-weight:normal;color:#231f20;">42</div>
<div style="left:826.18px;top:253px;width:38.27px;font-size:12px;line-height:14px;text-align:center;font-weight:normal;color:#231f20;">34</div>
<div style="left:32.00px;top:270px;font-size:11.5px;line-height:14px;text-align:left;font-weight:bold;color:#231f20;letter-spacing:0.23px;">BVT/BVS 3-12</div>
<div style="left:128.50px;top:270px;width:52.00px;font-size:12px;line-height:14px;text-align:center;font-weight:normal;color:#231f20;">25x25</div>
<div style="left:180.50px;top:270px;width:34.10px;font-size:12px;line-height:14px;text-align:center;font-weight:normal;color:#231f20;">1.1</div>
<div style="left:214.60px;top:270px;width:33.40px;font-size:12px;line-height:14px;text-align:center;font-weight:normal;color:#231f20;">1.5</div>
<div style="left:248.00px;top:270px;width:42.40px;font-size:12px;line-height:14px;text-align:center;font-weight:normal;color:#231f20;">-</div>
<div style="left:290.40px;top:270px;width:38.27px;font-size:12px;line-height:14px;text-align:center;font-weight:normal;color:#231f20;">-</div>
<div style="left:328.67px;top:270px;width:38.27px;font-size:12px;line-height:14px;text-align:center;font-weight:normal;color:#231f20;">-</div>
<div style="left:366.94px;top:270px;width:38.27px;font-size:12px;line-height:14px;text-align:center;font-weight:normal;color:#231f20;">-</div>
<div style="left:405.21px;top:270px;width:38.27px;font-size:12px;line-height:14px;text-align:center;font-weight:normal;color:#231f20;">73</div>
<div style="left:443.48px;top:270px;width:38.27px;font-size:12px;line-height:14px;text-align:center;font-weight:normal;color:#231f20;">72</div>
<div style="left:481.75px;top:270px;width:38.27px;font-size:12px;line-height:14px;text-align:center;font-weight:normal;color:#231f20;">70</div>
<div style="left:520.02px;top:270px;width:38.27px;font-size:12px;line-height:14px;text-align:center;font-weight:normal;color:#231f20;">69</div>
<div style="left:558.29px;top:270px;width:38.27px;font-size:12px;line-height:14px;text-align:center;font-weight:normal;color:#231f20;">67</div>
<div style="left:596.56px;top:270px;width:38.27px;font-size:12px;line-height:14px;text-align:center;font-weight:normal;color:#231f20;">63</div>
<div style="left:634.83px;top:270px;width:38.27px;font-size:12px;line-height:14px;text-align:center;font-weight:normal;color:#231f20;">58</div>
<div style="left:673.10px;top:270px;width:38.27px;font-size:12px;line-height:14px;text-align:center;font-weight:normal;color:#231f20;">55</div>
<div style="left:711.37px;top:270px;width:38.27px;font-size:12px;line-height:14px;text-align:center;font-weight:normal;color:#231f20;">52</div>
<div style="left:749.64px;top:270px;width:38.27px;font-size:12px;line-height:14px;text-align:center;font-weight:normal;color:#231f20;">47</div>
<div style="left:787.91px;top:270px;width:38.27px;font-size:12px;line-height:14px;text-align:center;font-weight:normal;color:#231f20;">45</div>
<div style="left:826.18px;top:270px;width:38.27px;font-size:12px;line-height:14px;text-align:center;font-weight:normal;color:#231f20;">37</div>
<div style="left:32.00px;top:287px;font-size:11.5px;line-height:14px;text-align:left;font-weight:bold;color:#231f20;letter-spacing:0.23px;">BVT/BVS 3-13</div>
<div style="left:128.50px;top:287px;width:52.00px;font-size:12px;line-height:14px;text-align:center;font-weight:normal;color:#231f20;">25x25</div>
<div style="left:180.50px;top:287px;width:34.10px;font-size:12px;line-height:14px;text-align:center;font-weight:normal;color:#231f20;">1.1</div>
<div style="left:214.60px;top:287px;width:33.40px;font-size:12px;line-height:14px;text-align:center;font-weight:normal;color:#231f20;">1.5</div>
<div style="left:248.00px;top:287px;width:42.40px;font-size:12px;line-height:14px;text-align:center;font-weight:normal;color:#231f20;">-</div>
<div style="left:290.40px;top:287px;width:38.27px;font-size:12px;line-height:14px;text-align:center;font-weight:normal;color:#231f20;">-</div>
<div style="left:328.67px;top:287px;width:38.27px;font-size:12px;line-height:14px;text-align:center;font-weight:normal;color:#231f20;">-</div>
<div style="left:366.94px;top:287px;width:38.27px;font-size:12px;line-height:14px;text-align:center;font-weight:normal;color:#231f20;">-</div>
<div style="left:405.21px;top:287px;width:38.27px;font-size:12px;line-height:14px;text-align:center;font-weight:normal;color:#231f20;">78</div>
<div style="left:443.48px;top:287px;width:38.27px;font-size:12px;line-height:14px;text-align:center;font-weight:normal;color:#231f20;">77</div>
<div style="left:481.75px;top:287px;width:38.27px;font-size:12px;line-height:14px;text-align:center;font-weight:normal;color:#231f20;">76</div>
<div style="left:520.02px;top:287px;width:38.27px;font-size:12px;line-height:14px;text-align:center;font-weight:normal;color:#231f20;">75</div>
<div style="left:558.29px;top:287px;width:38.27px;font-size:12px;line-height:14px;text-align:center;font-weight:normal;color:#231f20;">73</div>
<div style="left:596.56px;top:287px;width:38.27px;font-size:12px;line-height:14px;text-align:center;font-weight:normal;color:#231f20;">69</div>
<div style="left:634.83px;top:287px;width:38.27px;font-size:12px;line-height:14px;text-align:center;font-weight:normal;color:#231f20;">64</div>
<div style="left:673.10px;top:287px;width:38.27px;font-size:12px;line-height:14px;text-align:center;font-weight:normal;color:#231f20;">60</div>
<div style="left:711.37px;top:287px;width:38.27px;font-size:12px;line-height:14px;text-align:center;font-weight:normal;color:#231f20;">57</div>
<div style="left:749.64px;top:287px;width:38.27px;font-size:12px;line-height:14px;text-align:center;font-weight:normal;color:#231f20;">51</div>
<div style="left:787.91px;top:287px;width:38.27px;font-size:12px;line-height:14px;text-align:center;font-weight:normal;color:#231f20;">49</div>
<div style="left:826.18px;top:287px;width:38.27px;font-size:12px;line-height:14px;text-align:center;font-weight:normal;color:#231f20;">40</div>
<div style="left:32.00px;top:304px;font-size:11.5px;line-height:14px;text-align:left;font-weight:bold;color:#231f20;letter-spacing:0.23px;">BVT/BVS 3-15</div>
<div style="left:128.50px;top:304px;width:52.00px;font-size:12px;line-height:14px;text-align:center;font-weight:normal;color:#231f20;">25x25</div>
<div style="left:180.50px;top:304px;width:34.10px;font-size:12px;line-height:14px;text-align:center;font-weight:normal;color:#231f20;">1.1</div>
<div style="left:214.60px;top:304px;width:33.40px;font-size:12px;line-height:14px;text-align:center;font-weight:normal;color:#231f20;">1.5</div>
<div style="left:248.00px;top:304px;width:42.40px;font-size:12px;line-height:14px;text-align:center;font-weight:normal;color:#231f20;">-</div>
<div style="left:290.40px;top:304px;width:38.27px;font-size:12px;line-height:14px;text-align:center;font-weight:normal;color:#231f20;">-</div>
<div style="left:328.67px;top:304px;width:38.27px;font-size:12px;line-height:14px;text-align:center;font-weight:normal;color:#231f20;">-</div>
<div style="left:366.94px;top:304px;width:38.27px;font-size:12px;line-height:14px;text-align:center;font-weight:normal;color:#231f20;">-</div>
<div style="left:405.21px;top:304px;width:38.27px;font-size:12px;line-height:14px;text-align:center;font-weight:normal;color:#231f20;">90</div>
<div style="left:443.48px;top:304px;width:38.27px;font-size:12px;line-height:14px;text-align:center;font-weight:normal;color:#231f20;">89</div>
<div style="left:481.75px;top:304px;width:38.27px;font-size:12px;line-height:14px;text-align:center;font-weight:normal;color:#231f20;">88</div>
<div style="left:520.02px;top:304px;width:38.27px;font-size:12px;line-height:14px;text-align:center;font-weight:normal;color:#231f20;">86</div>
<div style="left:558.29px;top:304px;width:38.27px;font-size:12px;line-height:14px;text-align:center;font-weight:normal;color:#231f20;">84</div>
<div style="left:596.56px;top:304px;width:38.27px;font-size:12px;line-height:14px;text-align:center;font-weight:normal;color:#231f20;">79</div>
<div style="left:634.83px;top:304px;width:38.27px;font-size:12px;line-height:14px;text-align:center;font-weight:normal;color:#231f20;">73</div>
<div style="left:673.10px;top:304px;width:38.27px;font-size:12px;line-height:14px;text-align:center;font-weight:normal;color:#231f20;">69</div>
<div style="left:711.37px;top:304px;width:38.27px;font-size:12px;line-height:14px;text-align:center;font-weight:normal;color:#231f20;">66</div>
<div style="left:749.64px;top:304px;width:38.27px;font-size:12px;line-height:14px;text-align:center;font-weight:normal;color:#231f20;">59</div>
<div style="left:787.91px;top:304px;width:38.27px;font-size:12px;line-height:14px;text-align:center;font-weight:normal;color:#231f20;">57</div>
<div style="left:826.18px;top:304px;width:38.27px;font-size:12px;line-height:14px;text-align:center;font-weight:normal;color:#231f20;">46</div>
<div style="left:32.00px;top:321px;font-size:11.5px;line-height:14px;text-align:left;font-weight:bold;color:#231f20;letter-spacing:0.23px;">BVT/BVS 3-17</div>
<div style="left:128.50px;top:321px;width:52.00px;font-size:12px;line-height:14px;text-align:center;font-weight:normal;color:#231f20;">25x25</div>
<div style="left:180.50px;top:321px;width:34.10px;font-size:12px;line-height:14px;text-align:center;font-weight:normal;color:#231f20;">1.5</div>
<div style="left:214.60px;top:321px;width:33.40px;font-size:12px;line-height:14px;text-align:center;font-weight:normal;color:#231f20;">2</div>
<div style="left:248.00px;top:321px;width:42.40px;font-size:12px;line-height:14px;text-align:center;font-weight:normal;color:#231f20;">-</div>
<div style="left:290.40px;top:321px;width:38.27px;font-size:12px;line-height:14px;text-align:center;font-weight:normal;color:#231f20;">-</div>
<div style="left:328.67px;top:321px;width:38.27px;font-size:12px;line-height:14px;text-align:center;font-weight:normal;color:#231f20;">-</div>
<div style="left:366.94px;top:321px;width:38.27px;font-size:12px;line-height:14px;text-align:center;font-weight:normal;color:#231f20;">-</div>
<div style="left:405.21px;top:321px;width:38.27px;font-size:12px;line-height:14px;text-align:center;font-weight:normal;color:#231f20;">103</div>
<div style="left:443.48px;top:321px;width:38.27px;font-size:12px;line-height:14px;text-align:center;font-weight:normal;color:#231f20;">102</div>
<div style="left:481.75px;top:321px;width:38.27px;font-size:12px;line-height:14px;text-align:center;font-weight:normal;color:#231f20;">100</div>
<div style="left:520.02px;top:321px;width:38.27px;font-size:12px;line-height:14px;text-align:center;font-weight:normal;color:#231f20;">98</div>
<div style="left:558.29px;top:321px;width:38.27px;font-size:12px;line-height:14px;text-align:center;font-weight:normal;color:#231f20;">96</div>
<div style="left:596.56px;top:321px;width:38.27px;font-size:12px;line-height:14px;text-align:center;font-weight:normal;color:#231f20;">90</div>
<div style="left:634.83px;top:321px;width:38.27px;font-size:12px;line-height:14px;text-align:center;font-weight:normal;color:#231f20;">83</div>
<div style="left:673.10px;top:321px;width:38.27px;font-size:12px;line-height:14px;text-align:center;font-weight:normal;color:#231f20;">79</div>
<div style="left:711.37px;top:321px;width:38.27px;font-size:12px;line-height:14px;text-align:center;font-weight:normal;color:#231f20;">75</div>
<div style="left:749.64px;top:321px;width:38.27px;font-size:12px;line-height:14px;text-align:center;font-weight:normal;color:#231f20;">67</div>
<div style="left:787.91px;top:321px;width:38.27px;font-size:12px;line-height:14px;text-align:center;font-weight:normal;color:#231f20;">64</div>
<div style="left:826.18px;top:321px;width:38.27px;font-size:12px;line-height:14px;text-align:center;font-weight:normal;color:#231f20;">52</div>
<div style="left:32.00px;top:338px;font-size:11.5px;line-height:14px;text-align:left;font-weight:bold;color:#231f20;letter-spacing:0.23px;">BVT/BVS 3-19</div>
<div style="left:128.50px;top:338px;width:52.00px;font-size:12px;line-height:14px;text-align:center;font-weight:normal;color:#231f20;">25x25</div>
<div style="left:180.50px;top:338px;width:34.10px;font-size:12px;line-height:14px;text-align:center;font-weight:normal;color:#231f20;">1.5</div>
<div style="left:214.60px;top:338px;width:33.40px;font-size:12px;line-height:14px;text-align:center;font-weight:normal;color:#231f20;">2</div>
<div style="left:248.00px;top:338px;width:42.40px;font-size:12px;line-height:14px;text-align:center;font-weight:normal;color:#231f20;">-</div>
<div style="left:290.40px;top:338px;width:38.27px;font-size:12px;line-height:14px;text-align:center;font-weight:normal;color:#231f20;">-</div>
<div style="left:328.67px;top:338px;width:38.27px;font-size:12px;line-height:14px;text-align:center;font-weight:normal;color:#231f20;">-</div>
<div style="left:366.94px;top:338px;width:38.27px;font-size:12px;line-height:14px;text-align:center;font-weight:normal;color:#231f20;">-</div>
<div style="left:405.21px;top:338px;width:38.27px;font-size:12px;line-height:14px;text-align:center;font-weight:normal;color:#231f20;">115</div>
<div style="left:443.48px;top:338px;width:38.27px;font-size:12px;line-height:14px;text-align:center;font-weight:normal;color:#231f20;">114</div>
<div style="left:481.75px;top:338px;width:38.27px;font-size:12px;line-height:14px;text-align:center;font-weight:normal;color:#231f20;">112</div>
<div style="left:520.02px;top:338px;width:38.27px;font-size:12px;line-height:14px;text-align:center;font-weight:normal;color:#231f20;">110</div>
<div style="left:558.29px;top:338px;width:38.27px;font-size:12px;line-height:14px;text-align:center;font-weight:normal;color:#231f20;">107</div>
<div style="left:596.56px;top:338px;width:38.27px;font-size:12px;line-height:14px;text-align:center;font-weight:normal;color:#231f20;">100</div>
<div style="left:634.83px;top:338px;width:38.27px;font-size:12px;line-height:14px;text-align:center;font-weight:normal;color:#231f20;">92</div>
<div style="left:673.10px;top:338px;width:38.27px;font-size:12px;line-height:14px;text-align:center;font-weight:normal;color:#231f20;">88</div>
<div style="left:711.37px;top:338px;width:38.27px;font-size:12px;line-height:14px;text-align:center;font-weight:normal;color:#231f20;">83</div>
<div style="left:749.64px;top:338px;width:38.27px;font-size:12px;line-height:14px;text-align:center;font-weight:normal;color:#231f20;">75</div>
<div style="left:787.91px;top:338px;width:38.27px;font-size:12px;line-height:14px;text-align:center;font-weight:normal;color:#231f20;">72</div>
<div style="left:826.18px;top:338px;width:38.27px;font-size:12px;line-height:14px;text-align:center;font-weight:normal;color:#231f20;">58</div>
<div style="left:32.00px;top:355px;font-size:11.5px;line-height:14px;text-align:left;font-weight:bold;color:#231f20;letter-spacing:0.23px;">BVT/BVS 3-21</div>
<div style="left:128.50px;top:355px;width:52.00px;font-size:12px;line-height:14px;text-align:center;font-weight:normal;color:#231f20;">25x25</div>
<div style="left:180.50px;top:355px;width:34.10px;font-size:12px;line-height:14px;text-align:center;font-weight:normal;color:#231f20;">2.2</div>
<div style="left:214.60px;top:355px;width:33.40px;font-size:12px;line-height:14px;text-align:center;font-weight:normal;color:#231f20;">3</div>
<div style="left:248.00px;top:355px;width:42.40px;font-size:12px;line-height:14px;text-align:center;font-weight:normal;color:#231f20;">-</div>
<div style="left:290.40px;top:355px;width:38.27px;font-size:12px;line-height:14px;text-align:center;font-weight:normal;color:#231f20;">-</div>
<div style="left:328.67px;top:355px;width:38.27px;font-size:12px;line-height:14px;text-align:center;font-weight:normal;color:#231f20;">-</div>
<div style="left:366.94px;top:355px;width:38.27px;font-size:12px;line-height:14px;text-align:center;font-weight:normal;color:#231f20;">-</div>
<div style="left:405.21px;top:355px;width:38.27px;font-size:12px;line-height:14px;text-align:center;font-weight:normal;color:#231f20;">128</div>
<div style="left:443.48px;top:355px;width:38.27px;font-size:12px;line-height:14px;text-align:center;font-weight:normal;color:#231f20;">126</div>
<div style="left:481.75px;top:355px;width:38.27px;font-size:12px;line-height:14px;text-align:center;font-weight:normal;color:#231f20;">124</div>
<div style="left:520.02px;top:355px;width:38.27px;font-size:12px;line-height:14px;text-align:center;font-weight:normal;color:#231f20;">122</div>
<div style="left:558.29px;top:355px;width:38.27px;font-size:12px;line-height:14px;text-align:center;font-weight:normal;color:#231f20;">119</div>
<div style="left:596.56px;top:355px;width:38.27px;font-size:12px;line-height:14px;text-align:center;font-weight:normal;color:#231f20;">112</div>
<div style="left:634.83px;top:355px;width:38.27px;font-size:12px;line-height:14px;text-align:center;font-weight:normal;color:#231f20;">102</div>
<div style="left:673.10px;top:355px;width:38.27px;font-size:12px;line-height:14px;text-align:center;font-weight:normal;color:#231f20;">98</div>
<div style="left:711.37px;top:355px;width:38.27px;font-size:12px;line-height:14px;text-align:center;font-weight:normal;color:#231f20;">91</div>
<div style="left:749.64px;top:355px;width:38.27px;font-size:12px;line-height:14px;text-align:center;font-weight:normal;color:#231f20;">82</div>
<div style="left:787.91px;top:355px;width:38.27px;font-size:12px;line-height:14px;text-align:center;font-weight:normal;color:#231f20;">79</div>
<div style="left:826.18px;top:355px;width:38.27px;font-size:12px;line-height:14px;text-align:center;font-weight:normal;color:#231f20;">64</div>
<div style="left:32.00px;top:371px;font-size:11.5px;line-height:14px;text-align:left;font-weight:bold;color:#231f20;letter-spacing:0.23px;">BVT/BVS 3-23</div>
<div style="left:128.50px;top:371px;width:52.00px;font-size:12px;line-height:14px;text-align:center;font-weight:normal;color:#231f20;">25x25</div>
<div style="left:180.50px;top:371px;width:34.10px;font-size:12px;line-height:14px;text-align:center;font-weight:normal;color:#231f20;">2.2</div>
<div style="left:214.60px;top:371px;width:33.40px;font-size:12px;line-height:14px;text-align:center;font-weight:normal;color:#231f20;">3</div>
<div style="left:248.00px;top:371px;width:42.40px;font-size:12px;line-height:14px;text-align:center;font-weight:normal;color:#231f20;">-</div>
<div style="left:290.40px;top:371px;width:38.27px;font-size:12px;line-height:14px;text-align:center;font-weight:normal;color:#231f20;">-</div>
<div style="left:328.67px;top:371px;width:38.27px;font-size:12px;line-height:14px;text-align:center;font-weight:normal;color:#231f20;">-</div>
<div style="left:366.94px;top:371px;width:38.27px;font-size:12px;line-height:14px;text-align:center;font-weight:normal;color:#231f20;">-</div>
<div style="left:405.21px;top:371px;width:38.27px;font-size:12px;line-height:14px;text-align:center;font-weight:normal;color:#231f20;">140</div>
<div style="left:443.48px;top:371px;width:38.27px;font-size:12px;line-height:14px;text-align:center;font-weight:normal;color:#231f20;">138</div>
<div style="left:481.75px;top:371px;width:38.27px;font-size:12px;line-height:14px;text-align:center;font-weight:normal;color:#231f20;">135</div>
<div style="left:520.02px;top:371px;width:38.27px;font-size:12px;line-height:14px;text-align:center;font-weight:normal;color:#231f20;">133</div>
<div style="left:558.29px;top:371px;width:38.27px;font-size:12px;line-height:14px;text-align:center;font-weight:normal;color:#231f20;">130</div>
<div style="left:596.56px;top:371px;width:38.27px;font-size:12px;line-height:14px;text-align:center;font-weight:normal;color:#231f20;">122</div>
<div style="left:634.83px;top:371px;width:38.27px;font-size:12px;line-height:14px;text-align:center;font-weight:normal;color:#231f20;">112</div>
<div style="left:673.10px;top:371px;width:38.27px;font-size:12px;line-height:14px;text-align:center;font-weight:normal;color:#231f20;">107</div>
<div style="left:711.37px;top:371px;width:38.27px;font-size:12px;line-height:14px;text-align:center;font-weight:normal;color:#231f20;">100</div>
<div style="left:749.64px;top:371px;width:38.27px;font-size:12px;line-height:14px;text-align:center;font-weight:normal;color:#231f20;">90</div>
<div style="left:787.91px;top:371px;width:38.27px;font-size:12px;line-height:14px;text-align:center;font-weight:normal;color:#231f20;">86</div>
<div style="left:826.18px;top:371px;width:38.27px;font-size:12px;line-height:14px;text-align:center;font-weight:normal;color:#231f20;">70</div>
<div style="left:32.00px;top:388px;font-size:11.5px;line-height:14px;text-align:left;font-weight:bold;color:#231f20;letter-spacing:0.23px;">BVT/BVS 3-25</div>
<div style="left:128.50px;top:388px;width:52.00px;font-size:12px;line-height:14px;text-align:center;font-weight:normal;color:#231f20;">25x25</div>
<div style="left:180.50px;top:388px;width:34.10px;font-size:12px;line-height:14px;text-align:center;font-weight:normal;color:#231f20;">2.2</div>
<div style="left:214.60px;top:388px;width:33.40px;font-size:12px;line-height:14px;text-align:center;font-weight:normal;color:#231f20;">3</div>
<div style="left:248.00px;top:388px;width:42.40px;font-size:12px;line-height:14px;text-align:center;font-weight:normal;color:#231f20;">-</div>
<div style="left:290.40px;top:388px;width:38.27px;font-size:12px;line-height:14px;text-align:center;font-weight:normal;color:#231f20;">-</div>
<div style="left:328.67px;top:388px;width:38.27px;font-size:12px;line-height:14px;text-align:center;font-weight:normal;color:#231f20;">-</div>
<div style="left:366.94px;top:388px;width:38.27px;font-size:12px;line-height:14px;text-align:center;font-weight:normal;color:#231f20;">-</div>
<div style="left:405.21px;top:388px;width:38.27px;font-size:12px;line-height:14px;text-align:center;font-weight:normal;color:#231f20;">151</div>
<div style="left:443.48px;top:388px;width:38.27px;font-size:12px;line-height:14px;text-align:center;font-weight:normal;color:#231f20;">149</div>
<div style="left:481.75px;top:388px;width:38.27px;font-size:12px;line-height:14px;text-align:center;font-weight:normal;color:#231f20;">147</div>
<div style="left:520.02px;top:388px;width:38.27px;font-size:12px;line-height:14px;text-align:center;font-weight:normal;color:#231f20;">144</div>
<div style="left:558.29px;top:388px;width:38.27px;font-size:12px;line-height:14px;text-align:center;font-weight:normal;color:#231f20;">141</div>
<div style="left:596.56px;top:388px;width:38.27px;font-size:12px;line-height:14px;text-align:center;font-weight:normal;color:#231f20;">131</div>
<div style="left:634.83px;top:388px;width:38.27px;font-size:12px;line-height:14px;text-align:center;font-weight:normal;color:#231f20;">122</div>
<div style="left:673.10px;top:388px;width:38.27px;font-size:12px;line-height:14px;text-align:center;font-weight:normal;color:#231f20;">116</div>
<div style="left:711.37px;top:388px;width:38.27px;font-size:12px;line-height:14px;text-align:center;font-weight:normal;color:#231f20;">109</div>
<div style="left:749.64px;top:388px;width:38.27px;font-size:12px;line-height:14px;text-align:center;font-weight:normal;color:#231f20;">98</div>
<div style="left:787.91px;top:388px;width:38.27px;font-size:12px;line-height:14px;text-align:center;font-weight:normal;color:#231f20;">94</div>
<div style="left:826.18px;top:388px;width:38.27px;font-size:12px;line-height:14px;text-align:center;font-weight:normal;color:#231f20;">76</div>
<div style="left:32.00px;top:405px;font-size:11.5px;line-height:14px;text-align:left;font-weight:bold;color:#231f20;letter-spacing:0.23px;">BVT/BVS 3-27</div>
<div style="left:128.50px;top:405px;width:52.00px;font-size:12px;line-height:14px;text-align:center;font-weight:normal;color:#231f20;">25x25</div>
<div style="left:180.50px;top:405px;width:34.10px;font-size:12px;line-height:14px;text-align:center;font-weight:normal;color:#231f20;">2.2</div>
<div style="left:214.60px;top:405px;width:33.40px;font-size:12px;line-height:14px;text-align:center;font-weight:normal;color:#231f20;">3</div>
<div style="left:248.00px;top:405px;width:42.40px;font-size:12px;line-height:14px;text-align:center;font-weight:normal;color:#231f20;">-</div>
<div style="left:290.40px;top:405px;width:38.27px;font-size:12px;line-height:14px;text-align:center;font-weight:normal;color:#231f20;">-</div>
<div style="left:328.67px;top:405px;width:38.27px;font-size:12px;line-height:14px;text-align:center;font-weight:normal;color:#231f20;">-</div>
<div style="left:366.94px;top:405px;width:38.27px;font-size:12px;line-height:14px;text-align:center;font-weight:normal;color:#231f20;">-</div>
<div style="left:405.21px;top:405px;width:38.27px;font-size:12px;line-height:14px;text-align:center;font-weight:normal;color:#231f20;">164</div>
<div style="left:443.48px;top:405px;width:38.27px;font-size:12px;line-height:14px;text-align:center;font-weight:normal;color:#231f20;">162</div>
<div style="left:481.75px;top:405px;width:38.27px;font-size:12px;line-height:14px;text-align:center;font-weight:normal;color:#231f20;">159</div>
<div style="left:520.02px;top:405px;width:38.27px;font-size:12px;line-height:14px;text-align:center;font-weight:normal;color:#231f20;">156</div>
<div style="left:558.29px;top:405px;width:38.27px;font-size:12px;line-height:14px;text-align:center;font-weight:normal;color:#231f20;">152</div>
<div style="left:596.56px;top:405px;width:38.27px;font-size:12px;line-height:14px;text-align:center;font-weight:normal;color:#231f20;">143</div>
<div style="left:634.83px;top:405px;width:38.27px;font-size:12px;line-height:14px;text-align:center;font-weight:normal;color:#231f20;">132</div>
<div style="left:673.10px;top:405px;width:38.27px;font-size:12px;line-height:14px;text-align:center;font-weight:normal;color:#231f20;">124</div>
<div style="left:711.37px;top:405px;width:38.27px;font-size:12px;line-height:14px;text-align:center;font-weight:normal;color:#231f20;">117</div>
<div style="left:749.64px;top:405px;width:38.27px;font-size:12px;line-height:14px;text-align:center;font-weight:normal;color:#231f20;">105</div>
<div style="left:787.91px;top:405px;width:38.27px;font-size:12px;line-height:14px;text-align:center;font-weight:normal;color:#231f20;">101</div>
<div style="left:826.18px;top:405px;width:38.27px;font-size:12px;line-height:14px;text-align:center;font-weight:normal;color:#231f20;">82</div>
<div style="left:32.00px;top:421px;font-size:11.5px;line-height:14px;text-align:left;font-weight:bold;color:#231f20;letter-spacing:0.23px;">BVT/BVS 3-29</div>
<div style="left:128.50px;top:421px;width:52.00px;font-size:12px;line-height:14px;text-align:center;font-weight:normal;color:#231f20;">25x25</div>
<div style="left:180.50px;top:421px;width:34.10px;font-size:12px;line-height:14px;text-align:center;font-weight:normal;color:#231f20;">2.2</div>
<div style="left:214.60px;top:421px;width:33.40px;font-size:12px;line-height:14px;text-align:center;font-weight:normal;color:#231f20;">3</div>
<div style="left:248.00px;top:421px;width:42.40px;font-size:12px;line-height:14px;text-align:center;font-weight:normal;color:#231f20;">-</div>
<div style="left:290.40px;top:421px;width:38.27px;font-size:12px;line-height:14px;text-align:center;font-weight:normal;color:#231f20;">-</div>
<div style="left:328.67px;top:421px;width:38.27px;font-size:12px;line-height:14px;text-align:center;font-weight:normal;color:#231f20;">-</div>
<div style="left:366.94px;top:421px;width:38.27px;font-size:12px;line-height:14px;text-align:center;font-weight:normal;color:#231f20;">-</div>
<div style="left:405.21px;top:421px;width:38.27px;font-size:12px;line-height:14px;text-align:center;font-weight:normal;color:#231f20;">175</div>
<div style="left:443.48px;top:421px;width:38.27px;font-size:12px;line-height:14px;text-align:center;font-weight:normal;color:#231f20;">173</div>
<div style="left:481.75px;top:421px;width:38.27px;font-size:12px;line-height:14px;text-align:center;font-weight:normal;color:#231f20;">170</div>
<div style="left:520.02px;top:421px;width:38.27px;font-size:12px;line-height:14px;text-align:center;font-weight:normal;color:#231f20;">167</div>
<div style="left:558.29px;top:421px;width:38.27px;font-size:12px;line-height:14px;text-align:center;font-weight:normal;color:#231f20;">163</div>
<div style="left:596.56px;top:421px;width:38.27px;font-size:12px;line-height:14px;text-align:center;font-weight:normal;color:#231f20;">152</div>
<div style="left:634.83px;top:421px;width:38.27px;font-size:12px;line-height:14px;text-align:center;font-weight:normal;color:#231f20;">142</div>
<div style="left:673.10px;top:421px;width:38.27px;font-size:12px;line-height:14px;text-align:center;font-weight:normal;color:#231f20;">133</div>
<div style="left:711.37px;top:421px;width:38.27px;font-size:12px;line-height:14px;text-align:center;font-weight:normal;color:#231f20;">126</div>
<div style="left:749.64px;top:421px;width:38.27px;font-size:12px;line-height:14px;text-align:center;font-weight:normal;color:#231f20;">113</div>
<div style="left:787.91px;top:421px;width:38.27px;font-size:12px;line-height:14px;text-align:center;font-weight:normal;color:#231f20;">109</div>
<div style="left:826.18px;top:421px;width:38.27px;font-size:12px;line-height:14px;text-align:center;font-weight:normal;color:#231f20;">88</div>
<div style="left:32.00px;top:439px;font-size:11.5px;line-height:14px;text-align:left;font-weight:bold;color:#231f20;letter-spacing:0.23px;">BVT/BVS 3-31</div>
<div style="left:128.50px;top:439px;width:52.00px;font-size:12px;line-height:14px;text-align:center;font-weight:normal;color:#231f20;">25x25</div>
<div style="left:180.50px;top:439px;width:34.10px;font-size:12px;line-height:14px;text-align:center;font-weight:normal;color:#231f20;">3</div>
<div style="left:214.60px;top:439px;width:33.40px;font-size:12px;line-height:14px;text-align:center;font-weight:normal;color:#231f20;">4</div>
<div style="left:248.00px;top:439px;width:42.40px;font-size:12px;line-height:14px;text-align:center;font-weight:normal;color:#231f20;">-</div>
<div style="left:290.40px;top:439px;width:38.27px;font-size:12px;line-height:14px;text-align:center;font-weight:normal;color:#231f20;">-</div>
<div style="left:328.67px;top:439px;width:38.27px;font-size:12px;line-height:14px;text-align:center;font-weight:normal;color:#231f20;">-</div>
<div style="left:366.94px;top:439px;width:38.27px;font-size:12px;line-height:14px;text-align:center;font-weight:normal;color:#231f20;">-</div>
<div style="left:405.21px;top:439px;width:38.27px;font-size:12px;line-height:14px;text-align:center;font-weight:normal;color:#231f20;">187</div>
<div style="left:443.48px;top:439px;width:38.27px;font-size:12px;line-height:14px;text-align:center;font-weight:normal;color:#231f20;">185</div>
<div style="left:481.75px;top:439px;width:38.27px;font-size:12px;line-height:14px;text-align:center;font-weight:normal;color:#231f20;">182</div>
<div style="left:520.02px;top:439px;width:38.27px;font-size:12px;line-height:14px;text-align:center;font-weight:normal;color:#231f20;">179</div>
<div style="left:558.29px;top:439px;width:38.27px;font-size:12px;line-height:14px;text-align:center;font-weight:normal;color:#231f20;">175</div>
<div style="left:596.56px;top:439px;width:38.27px;font-size:12px;line-height:14px;text-align:center;font-weight:normal;color:#231f20;">165</div>
<div style="left:634.83px;top:439px;width:38.27px;font-size:12px;line-height:14px;text-align:center;font-weight:normal;color:#231f20;">153</div>
<div style="left:673.10px;top:439px;width:38.27px;font-size:12px;line-height:14px;text-align:center;font-weight:normal;color:#231f20;">142</div>
<div style="left:711.37px;top:439px;width:38.27px;font-size:12px;line-height:14px;text-align:center;font-weight:normal;color:#231f20;">135</div>
<div style="left:749.64px;top:439px;width:38.27px;font-size:12px;line-height:14px;text-align:center;font-weight:normal;color:#231f20;">121</div>
<div style="left:787.91px;top:439px;width:38.27px;font-size:12px;line-height:14px;text-align:center;font-weight:normal;color:#231f20;">116</div>
<div style="left:826.18px;top:439px;width:38.27px;font-size:12px;line-height:14px;text-align:center;font-weight:normal;color:#231f20;">94</div>
<div style="left:32.00px;top:455px;font-size:11.5px;line-height:14px;text-align:left;font-weight:bold;color:#231f20;letter-spacing:0.23px;">BVT/BVS 3-33</div>
<div style="left:128.50px;top:455px;width:52.00px;font-size:12px;line-height:14px;text-align:center;font-weight:normal;color:#231f20;">25x25</div>
<div style="left:180.50px;top:455px;width:34.10px;font-size:12px;line-height:14px;text-align:center;font-weight:normal;color:#231f20;">3</div>
<div style="left:214.60px;top:455px;width:33.40px;font-size:12px;line-height:14px;text-align:center;font-weight:normal;color:#231f20;">4</div>
<div style="left:248.00px;top:455px;width:42.40px;font-size:12px;line-height:14px;text-align:center;font-weight:normal;color:#231f20;">-</div>
<div style="left:290.40px;top:455px;width:38.27px;font-size:12px;line-height:14px;text-align:center;font-weight:normal;color:#231f20;">-</div>
<div style="left:328.67px;top:455px;width:38.27px;font-size:12px;line-height:14px;text-align:center;font-weight:normal;color:#231f20;">-</div>
<div style="left:366.94px;top:455px;width:38.27px;font-size:12px;line-height:14px;text-align:center;font-weight:normal;color:#231f20;">-</div>
<div style="left:405.21px;top:455px;width:38.27px;font-size:12px;line-height:14px;text-align:center;font-weight:normal;color:#231f20;">199</div>
<div style="left:443.48px;top:455px;width:38.27px;font-size:12px;line-height:14px;text-align:center;font-weight:normal;color:#231f20;">197</div>
<div style="left:481.75px;top:455px;width:38.27px;font-size:12px;line-height:14px;text-align:center;font-weight:normal;color:#231f20;">194</div>
<div style="left:520.02px;top:455px;width:38.27px;font-size:12px;line-height:14px;text-align:center;font-weight:normal;color:#231f20;">191</div>
<div style="left:558.29px;top:455px;width:38.27px;font-size:12px;line-height:14px;text-align:center;font-weight:normal;color:#231f20;">187</div>
<div style="left:596.56px;top:455px;width:38.27px;font-size:12px;line-height:14px;text-align:center;font-weight:normal;color:#231f20;">176</div>
<div style="left:634.83px;top:455px;width:38.27px;font-size:12px;line-height:14px;text-align:center;font-weight:normal;color:#231f20;">163</div>
<div style="left:673.10px;top:455px;width:38.27px;font-size:12px;line-height:14px;text-align:center;font-weight:normal;color:#231f20;">151</div>
<div style="left:711.37px;top:455px;width:38.27px;font-size:12px;line-height:14px;text-align:center;font-weight:normal;color:#231f20;">145</div>
<div style="left:749.64px;top:455px;width:38.27px;font-size:12px;line-height:14px;text-align:center;font-weight:normal;color:#231f20;">130</div>
<div style="left:787.91px;top:455px;width:38.27px;font-size:12px;line-height:14px;text-align:center;font-weight:normal;color:#231f20;">125</div>
<div style="left:826.18px;top:455px;width:38.27px;font-size:12px;line-height:14px;text-align:center;font-weight:normal;color:#231f20;">100</div>
<div style="left:32.00px;top:472px;font-size:11.5px;line-height:14px;text-align:left;font-weight:bold;color:#231f20;letter-spacing:0.23px;">BVT/BVS 3-36</div>
<div style="left:128.50px;top:472px;width:52.00px;font-size:12px;line-height:14px;text-align:center;font-weight:normal;color:#231f20;">25x25</div>
<div style="left:180.50px;top:472px;width:34.10px;font-size:12px;line-height:14px;text-align:center;font-weight:normal;color:#231f20;">3</div>
<div style="left:214.60px;top:472px;width:33.40px;font-size:12px;line-height:14px;text-align:center;font-weight:normal;color:#231f20;">4</div>
<div style="left:248.00px;top:472px;width:42.40px;font-size:12px;line-height:14px;text-align:center;font-weight:normal;color:#231f20;">-</div>
<div style="left:290.40px;top:472px;width:38.27px;font-size:12px;line-height:14px;text-align:center;font-weight:normal;color:#231f20;">-</div>
<div style="left:328.67px;top:472px;width:38.27px;font-size:12px;line-height:14px;text-align:center;font-weight:normal;color:#231f20;">-</div>
<div style="left:366.94px;top:472px;width:38.27px;font-size:12px;line-height:14px;text-align:center;font-weight:normal;color:#231f20;">-</div>
<div style="left:405.21px;top:472px;width:38.27px;font-size:12px;line-height:14px;text-align:center;font-weight:normal;color:#231f20;">218</div>
<div style="left:443.48px;top:472px;width:38.27px;font-size:12px;line-height:14px;text-align:center;font-weight:normal;color:#231f20;">215</div>
<div style="left:481.75px;top:472px;width:38.27px;font-size:12px;line-height:14px;text-align:center;font-weight:normal;color:#231f20;">212</div>
<div style="left:520.02px;top:472px;width:38.27px;font-size:12px;line-height:14px;text-align:center;font-weight:normal;color:#231f20;">208</div>
<div style="left:558.29px;top:472px;width:38.27px;font-size:12px;line-height:14px;text-align:center;font-weight:normal;color:#231f20;">204</div>
<div style="left:596.56px;top:472px;width:38.27px;font-size:12px;line-height:14px;text-align:center;font-weight:normal;color:#231f20;">192</div>
<div style="left:634.83px;top:472px;width:38.27px;font-size:12px;line-height:14px;text-align:center;font-weight:normal;color:#231f20;">178</div>
<div style="left:673.10px;top:472px;width:38.27px;font-size:12px;line-height:14px;text-align:center;font-weight:normal;color:#231f20;">168</div>
<div style="left:711.37px;top:472px;width:38.27px;font-size:12px;line-height:14px;text-align:center;font-weight:normal;color:#231f20;">159</div>
<div style="left:749.64px;top:472px;width:38.27px;font-size:12px;line-height:14px;text-align:center;font-weight:normal;color:#231f20;">143</div>
<div style="left:787.91px;top:472px;width:38.27px;font-size:12px;line-height:14px;text-align:center;font-weight:normal;color:#231f20;">137</div>
<div style="left:826.18px;top:472px;width:38.27px;font-size:12px;line-height:14px;text-align:center;font-weight:normal;color:#231f20;">109</div>
</body></html>
